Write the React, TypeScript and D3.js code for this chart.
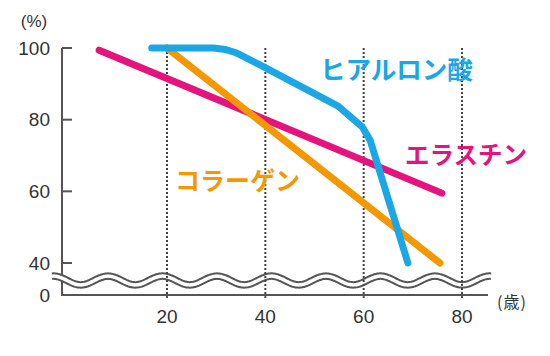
import React from "react";
import * as d3 from "d3";

const yTicks = [100, 80, 60, 40];
const xTicks = [20, 40, 60, 80];

const hyaluronicAges = [16.9, 29.5, 31.8, 34.2, 38.9, 54.8, 59.7, 61.3, 69];
const hyaluronicValues = [100, 100, 99.6, 98.6, 95.3, 83.8, 78, 74.3, 40];

const collagenAges = [20, 75.5];
const collagenValues = [100, 40];

const elastinAges = [6.2, 75.9];
const elastinValues = [99.4, 59.5];

const seriesNames = ["ヒアルロン酸", "コラーゲン", "エラスチン"];
const seriesColors = ["#1ba6e6", "#f39800", "#e4147c"];

export default function App() {
  const W = 550;
  const H = 356;
  const x = d3.scaleLinear().domain([20, 80]).range([167, 462]);
  const y = d3.scaleLinear().domain([40, 100]).range([263, 48]);
  const axisX = 62;
  const axisY = 295;
  const axisRight = 488;

  const line = d3
    .line<[number, number]>()
    .x((d) => x(d[0]))
    .y((d) => y(d[1]));

  const mk = (a: number[], v: number[]) => a.map((d, i) => [d, v[i]] as [number, number]);

  const series = [
    mk(hyaluronicAges, hyaluronicValues),
    mk(collagenAges, collagenValues),
    mk(elastinAges, elastinValues),
  ];

  // decorative break wave
  const wavePts: [number, number][] = [];
  const waveCenter = 280.5;
  const amp = 4.4;
  const period = 54.5;
  const peak0 = 108;
  for (let px = 52; px <= 491; px += 1) {
    wavePts.push([px, waveCenter - amp * Math.cos(((px - peak0) / period) * 2 * Math.PI)]);
  }
  const wavePath = d3.line<[number, number]>().x((d) => d[0]).y((d) => d[1]).curve(d3.curveBasis)(wavePts) || "";

  const tickFont = "'Liberation Sans', Arial, sans-serif";
  const jpFont = "'Noto Sans CJK JP', sans-serif";

  const labels = [
    { text: seriesNames[0], x: 320, y: 70, size: 25.5, color: seriesColors[0] },
    { text: seriesNames[1], x: 175, y: 181, size: 25, color: seriesColors[1] },
    { text: seriesNames[2], x: 405, y: 155, size: 24.5, color: seriesColors[2] },
  ];

  return (
    <svg
      width={W}
      height={H}
      viewBox={`0 0 ${W} ${H}`}
      style={{ position: "absolute", left: 0, top: 0, background: "#fff" }}
    >
      {/* axes */}
      <line x1={axisX} y1={y(100)} x2={axisX} y2={axisY} stroke="#555" strokeWidth={2} />
      <line x1={axisX - 1} y1={axisY} x2={axisRight} y2={axisY} stroke="#555" strokeWidth={2} />
      {yTicks.map((t) => (
        <line key={"yt" + t} x1={axisX} x2={axisX + 10} y1={y(t)} y2={y(t)} stroke="#555" strokeWidth={2} />
      ))}
      {/* break wave */}
      <path d={wavePath} fill="none" stroke="#555" strokeWidth={7.5} />
      <path d={wavePath} fill="none" stroke="#fff" strokeWidth={3.5} />
      {/* dotted verticals */}
      {xTicks.map((t) => (
        <g key={"xg" + t}>
          <line x1={x(t)} x2={x(t)} y1={y(100)} y2={axisY} stroke="#444" strokeWidth={2} strokeDasharray="2 2" />
          <line x1={x(t)} x2={x(t)} y1={axisY} y2={axisY + 3} stroke="#555" strokeWidth={2} />
        </g>
      ))}
      {/* tick labels */}
      {yTicks.map((t) => (
        <text
          key={"yl" + t}
          x={50}
          y={y(t)}
          dy="0.35em"
          textAnchor="end"
          fontFamily={tickFont}
          fontSize={19}
          fill="#333"
        >
          {t}
        </text>
      ))}
      <text x={50} y={axisY} dy="0.35em" textAnchor="end" fontFamily={tickFont} fontSize={19} fill="#333">
        0
      </text>
      {xTicks.map((t) => (
        <text
          key={"xl" + t}
          x={x(t)}
          y={316}
          dy="0.35em"
          textAnchor="middle"
          fontFamily={tickFont}
          fontSize={19}
          fill="#333"
        >
          {t}
        </text>
      ))}
      <text x={34} y={21} dy="0.35em" textAnchor="middle" fontFamily={tickFont} fontSize={17} fill="#333">
        (%)
      </text>
      <text x={512} y={302} dy="0.35em" textAnchor="middle" fontFamily={jpFont} fontSize={16} letterSpacing={1} fill="#333">
        (歳)
      </text>
      {/* data lines: draw elastin, collagen, hyaluronic */}
      {[2, 1, 0].map((i) => (
        <path
          key={"s" + i}
          d={line(series[i]) || ""}
          fill="none"
          stroke={seriesColors[i]}
          strokeWidth={7}
          strokeLinecap="round"
          strokeLinejoin="round"
        />
      ))}
      {labels.map((l) => (
        <text
          key={l.text}
          x={l.x}
          y={l.y}
          dy="0.36em"
          fontFamily={jpFont}
          fontWeight={700}
          fontSize={l.size}
          fill={l.color}
        >
          {l.text}
        </text>
      ))}
    </svg>
  );
}
